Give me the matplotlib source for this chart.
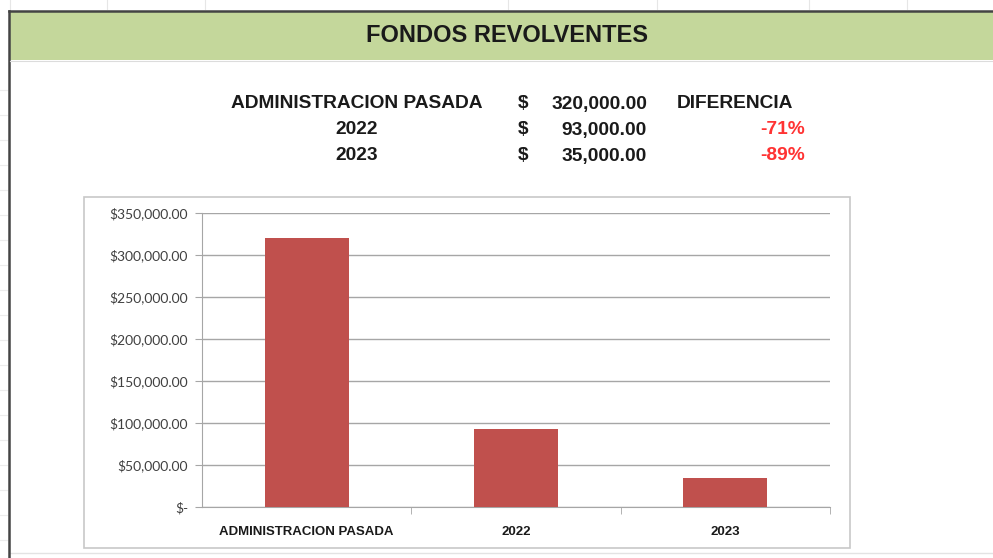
import numpy as np
import matplotlib.pyplot as plt
from matplotlib.patches import Rectangle
from matplotlib.lines import Line2D
from matplotlib.ticker import FuncFormatter

# --- data ---
categories = ['ADMINISTRACION PASADA', '2022', '2023']
amounts = [320000, 93000, 35000]
table_labels = ['ADMINISTRACION PASADA', '2022', '2023']
table_values = ['320,000.00', '93,000.00', '35,000.00']
differences = ['DIFERENCIA', '-71%', '-89%']
y_ticks = [0, 50000, 100000, 150000, 200000, 250000, 300000, 350000]

W, H = 993, 558
fig = plt.figure(figsize=(W / 100, H / 100), dpi=100)

def fx(px):
    return px / W

def fy(py):
    return 1 - py / H

def fline(xs, ys, **kw):
    fig.lines.append(Line2D([fx(v) for v in xs], [fy(v) for v in ys],
                            transform=fig.transFigure, **kw))

# faint spreadsheet cell lines around the frame
for cx in [10, 107, 205, 508, 657, 809, 907]:
    fline([cx, cx], [0, 9], color='#e6e6e6', lw=0.8)
for ry in range(90, 558, 25):
    fline([0, 7], [ry, ry], color='#ececec', lw=0.8)
fline([10, 993], [553, 553], color='#e3e3e3', lw=1)

# spreadsheet frame + header band
fig.patches.append(Rectangle((fx(10), fy(60)), fx(990), 48 / H, transform=fig.transFigure,
                             facecolor='#C4D79B', edgecolor='none'))
fline([9, 9], [11, 558], color='#444444', lw=1.8)
fline([9, 993], [11, 11], color='#444444', lw=1.8)
fline([10, 993], [61, 61], color='#dcdcdc', lw=0.8)
fig.text(fx(507), fy(36), 'FONDOS REVOLVENTES', ha='center', va='center',
         fontsize=17, fontweight='bold', family='Liberation Sans', color='#1a1a1a')

# summary table
rows_y = [104, 130, 156]
tkw = dict(va='center', fontsize=13.8, fontweight='bold', family='Liberation Sans')
for i, y in enumerate(rows_y):
    fig.text(fx(357), fy(y), table_labels[i], ha='center', color='#1a1a1a', **tkw)
    fig.text(fx(523), fy(y), '$', ha='center', color='#1a1a1a', **tkw)
    fig.text(fx(647), fy(y), table_values[i], ha='right', color='#1a1a1a', **tkw)
    fig.text(fx(805) if i else fx(735), fy(y), differences[i],
             ha='right' if i else 'center',
             color='#FF3333' if i else '#1a1a1a', **tkw)

# chart box
box = Rectangle((fx(84), fy(548)), 766 / W, 351 / H, transform=fig.transFigure,
                facecolor='white', edgecolor='#c8c8c8', lw=1.2, zorder=0)
fig.patches.append(box)

ax = fig.add_axes([fx(202), fy(507), 628 / W, 294 / H])
ax.set_zorder(2)
x = np.arange(len(categories))
ax.bar(x, amounts, width=0.4, color='#C0504D', zorder=3)
ax.set_xlim(-0.5, 2.5)
ax.set_ylim(0, 350000)
ax.set_yticks(y_ticks)
ax.yaxis.set_major_formatter(FuncFormatter(lambda v, p: '$-' if v == 0 else f'${v:,.2f}'))
ax.grid(axis='y', color='#a6a6a6', lw=1, zorder=0)
for s in ['top', 'right']:
    ax.spines[s].set_visible(False)
for s in ['left', 'bottom']:
    ax.spines[s].set_color('#a6a6a6')
ax.set_xticks(x)
ax.set_xticklabels(categories, fontsize=9.5, fontweight='bold',
                   family='Liberation Sans', color='#1a1a1a')
ax.set_xticks([0.5, 1.5, 2.5], minor=True)
ax.tick_params(axis='x', which='major', length=0, pad=14)
ax.tick_params(axis='x', which='minor', length=5, color='#a6a6a6')
ax.tick_params(axis='y', length=5, color='#a6a6a6', labelsize=10, labelcolor='#404040', pad=5)
for lab in ax.get_yticklabels():
    lab.set_family('Lato')

fig.savefig('out.png', dpi=100)
